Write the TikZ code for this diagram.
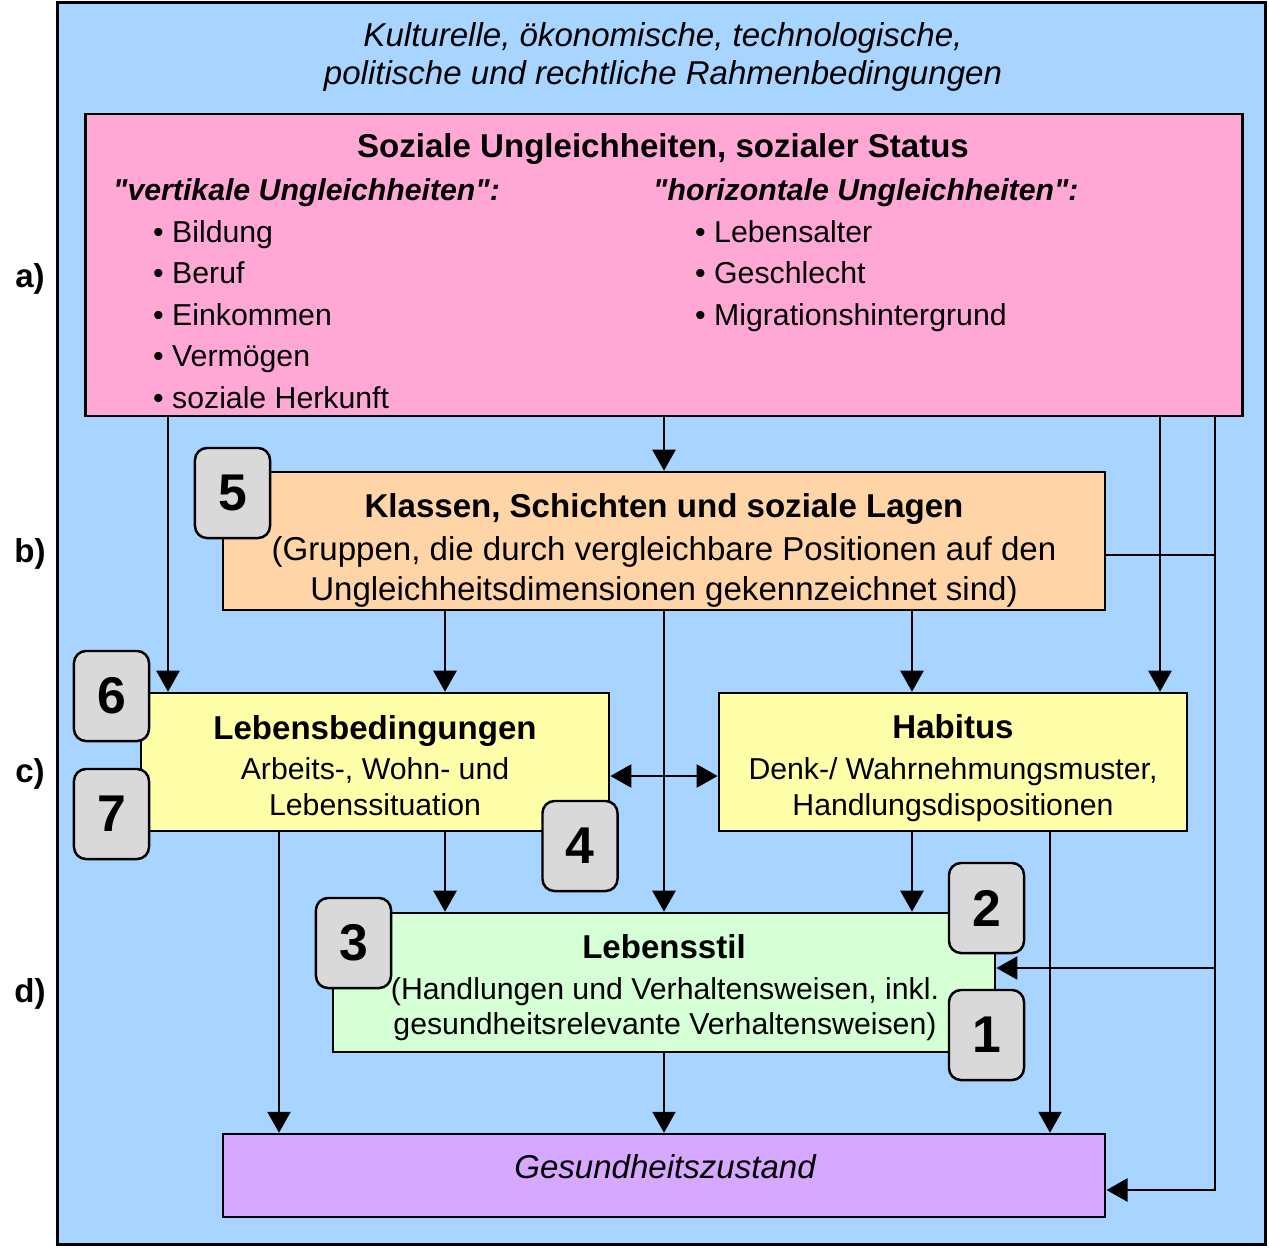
\documentclass[tikz,border=0pt]{standalone}
\usepackage{fontspec}
\setmainfont{Liberation Sans}[Ligatures=TeXOff]
\usetikzlibrary{arrows.meta}

\definecolor{hgblau}{HTML}{A8D5FF}
\definecolor{rosa}{HTML}{FFA8D6}
\definecolor{apricot}{HTML}{FFD5A8}
\definecolor{hellgelb}{HTML}{FFFFAA}
\definecolor{hellgruen}{HTML}{D5FFD5}
\definecolor{lila}{HTML}{D6A8FF}
\definecolor{badgegrau}{HTML}{D9D9D9}

\newcommand{\gross}{\fontsize{9.4}{11}\selectfont}
\newcommand{\klein}{\fontsize{8.6}{10}\selectfont}

\begin{document}
\begin{tikzpicture}[x=0.01cm, y=-0.01cm, line width=0.7pt,
  box/.style={draw, inner sep=0pt},
  badge/.style={draw, fill=badgegrau, rounded corners=0.12cm, minimum width=0.75cm,
    minimum height=0.9cm, inner sep=0pt, font=\fontsize{14.7}{16}\selectfont\bfseries},
  txt/.style={anchor=base, inner sep=0pt, font=\gross},
  ktxt/.style={anchor=base, inner sep=0pt, font=\klein},
  ltxt/.style={anchor=base west, inner sep=0pt, font=\klein},
  pfeil/.style={-{Triangle[length=0.21cm,width=0.23cm]}},
  doppelpfeil/.style={{Triangle[length=0.21cm,width=0.23cm]}-{Triangle[length=0.21cm,width=0.23cm]}}]
\useasboundingbox (0,0) rectangle (1269,1247);
\fill[white] (0,0) rectangle (1269,1247);

% Rahmenbedingungen
\node[box, fill=hgblau, minimum width=12.07cm, minimum height=12.41cm] (rahmen) at (661.5,623.5) {};
\node[txt] (rb1) at (663,46) {\itshape Kulturelle, ökonomische, technologische,};
\node[txt] (rb2) at (663,84) {\itshape politische und rechtliche Rahmenbedingungen};

% Ebenen
\node[txt] (ea) at (30,287) {\bfseries a)};
\node[txt] (eb) at (30,562) {\bfseries b)};
\node[txt] (ec) at (30,782) {\bfseries c)};
\node[txt] (ed) at (30,1002) {\bfseries d)};

% Kaesten
\node[box, fill=rosa, minimum width=11.56cm, minimum height=3.02cm] (soz) at (664,265) {};
\node[box, fill=apricot, minimum width=8.82cm, minimum height=1.38cm] (kls) at (664,541) {};
\node[box, fill=hellgelb, minimum width=4.68cm, minimum height=1.38cm] (lbd) at (375,762) {};
\node[box, fill=hellgelb, minimum width=4.68cm, minimum height=1.38cm] (hab) at (953,762) {};
\node[box, fill=hellgruen, minimum width=6.62cm, minimum height=1.39cm] (lst) at (664,982.5) {};
\node[box, fill=lila, minimum width=8.82cm, minimum height=0.83cm] (gz) at (664,1175.5) {};

% Texte
\node[txt] (sozt) at (663,157) {\bfseries Soziale Ungleichheiten, sozialer Status};
\node[ltxt] (vert) at (112,200) {\bfseries\itshape "vertikale Ungleichheiten":};
\node[ltxt] (hori) at (652,200) {\bfseries\itshape "horizontale Ungleichheiten":};
\foreach \t [count=\i] in {Bildung, Beruf, Einkommen, Vermögen, soziale Herkunft}
  \node[ltxt] (vl\i) at (152,200.5+41.5*\i) {\textbullet\ \t};
\foreach \t [count=\i] in {Lebensalter, Geschlecht, Migrationshintergrund}
  \node[ltxt] (hl\i) at (694,200.5+41.5*\i) {\textbullet\ \t};

\node[txt] (klt) at (664,517) {\bfseries Klassen, Schichten und soziale Lagen};
\node[txt] (kl2) at (664,560) {(Gruppen, die durch vergleichbare Positionen auf den};
\node[txt] (kl3) at (664,600) {Ungleichheitsdimensionen gekennzeichnet sind)};

\node[txt] (lbt) at (375,739) {\bfseries Lebensbedingungen};
\node[ktxt] (lb2) at (375,779) {Arbeits-, Wohn- und};
\node[ktxt] (lb3) at (375,815) {Lebenssituation};

\node[txt] (habt) at (953,738) {\bfseries Habitus};
\node[ktxt] (hab2) at (953,779) {Denk-/ Wahrnehmungsmuster,};
\node[ktxt] (hab3) at (953,815) {Handlungsdispositionen};

\node[txt] (lstt) at (664,958) {\bfseries Lebensstil};
\node[ktxt] (lst2) at (665,999) {(Handlungen und Verhaltensweisen, inkl.};
\node[ktxt] (lst3) at (665,1034) {gesundheitsrelevante Verhaltensweisen)};

\node[txt] (gzt) at (665,1178) {\itshape Gesundheitszustand};

% Pfeile
\draw[pfeil] (168,0 |- soz.south) -- (168,0 |- lbd.north);
\draw[pfeil] (soz.south) -- (kls.north);
\draw[pfeil] (1160,0 |- soz.south) -- (1160,0 |- hab.north);
\coordinate (rk) at (1215,1190);
\draw[pfeil] (1215,0 |- soz.south) -- (rk) -- (rk -| gz.east);
\draw (kls.east |- 0,555) -- (1215,555);
\draw[pfeil] (1215,968) -- (1215,968 -| lst.east);

\draw[pfeil] (445,0 |- kls.south) -- (445,0 |- lbd.north);
\draw[pfeil] (kls.south) -- (lst.north);
\draw[pfeil] (912,0 |- kls.south) -- (912,0 |- hab.north);
\draw[doppelpfeil] (lbd.east |- 0,776) -- (hab.west |- 0,776);

\draw[pfeil] (279,0 |- lbd.south) -- (279,0 |- gz.north);
\draw[pfeil] (445,0 |- lbd.south) -- (445,0 |- lst.north);
\draw[pfeil] (912,0 |- hab.south) -- (912,0 |- lst.north);
\draw[pfeil] (1050,0 |- hab.south) -- (1050,0 |- gz.north);
\draw[pfeil] (lst.south) -- (gz.north);

% Nummern
\node[badge] (n5) at (232.5,493) {5};
\node[badge] (n6) at (111.5,696) {6};
\node[badge] (n7) at (111.5,814) {7};
\node[badge] (n4) at (580,846) {4};
\node[badge] (n3) at (353.5,943) {3};
\node[badge] (n2) at (986.5,908) {2};
\node[badge] (n1) at (986.5,1035) {1};
\end{tikzpicture}
\end{document}
